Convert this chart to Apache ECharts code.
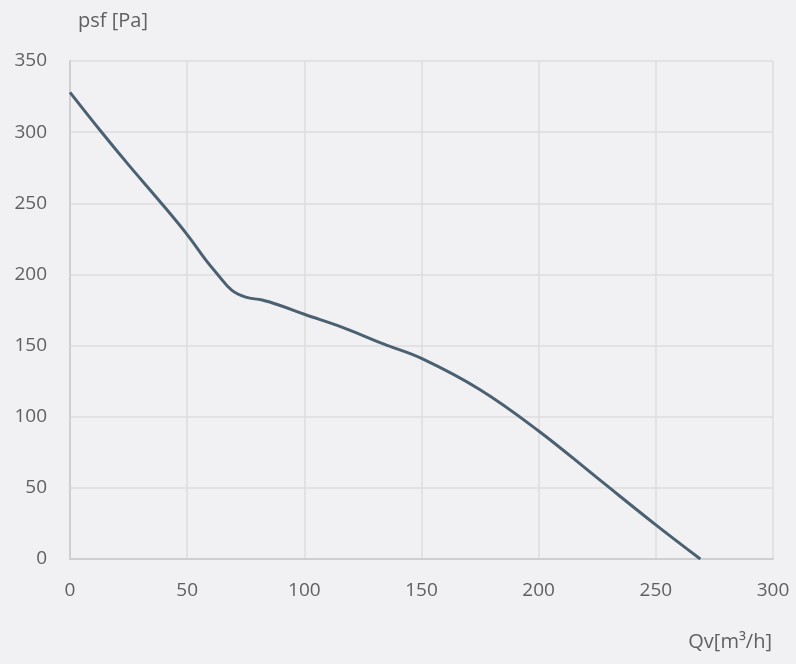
<!DOCTYPE html>
<html>
<head>
<meta charset="utf-8">
<script src="https://cdn.jsdelivr.net/npm/echarts@6/dist/echarts.min.js"></script>
<style>
html,body{margin:0;padding:0;background:#f1f1f4;}
#chart{width:796px;height:664px;}
</style>
</head>
<body>
<div id="chart"></div>
<script>
var flowValues = [0, 13, 25, 38, 50, 58, 63, 69, 75, 82, 90, 100, 116, 134, 150, 175, 200, 225, 250, 269];
var pressureValues = [328, 301, 277, 252, 228, 210, 200, 189, 184, 182, 178, 172, 163, 151, 141, 119, 90, 57, 24, 0];
var xAxisName = 'Qv[m³/h]';
var yAxisName = 'psf [Pa]';

var points = flowValues.map(function (x, i) { return [x, pressureValues[i]]; });
var chart = echarts.init(document.getElementById('chart'));
var labelFont = '"Open Sans", sans-serif';
chart.setOption({
  backgroundColor: '#f1f1f4',
  animation: false,
  grid: { left: 70, right: 23, top: 61, bottom: 105 },
  xAxis: {
    type: 'value', min: 0, max: 300, interval: 50,
    axisLine: { show: true, lineStyle: { color: '#cfcfcf', width: 2 } },
    axisTick: { show: false },
    splitLine: { show: true, lineStyle: { color: '#dddddd', width: 1.5 } },
    axisLabel: { color: '#606060', fontSize: 19, fontFamily: labelFont, margin: 22 }
  },
  yAxis: {
    type: 'value', min: 0, max: 350, interval: 50,
    axisLine: { show: true, lineStyle: { color: '#cfcfcf', width: 2 } },
    axisTick: { show: false },
    splitLine: { show: true, lineStyle: { color: '#dddddd', width: 1.5 } },
    axisLabel: { color: '#606060', fontSize: 19, fontFamily: labelFont, margin: 23 }
  },
  graphic: [
    { type: 'text', left: 78, top: 11, style: { text: yAxisName, fill: '#606060', font: '20px ' + labelFont } },
    { type: 'text', right: 24, top: 632, style: { text: xAxisName, fill: '#606060', font: '20px ' + labelFont } }
  ],
  series: [{
    type: 'line',
    data: points,
    smooth: 0.4,
    showSymbol: false,
    lineStyle: { color: '#4b6171', width: 3 }
  }]
});
</script>
</body>
</html>
